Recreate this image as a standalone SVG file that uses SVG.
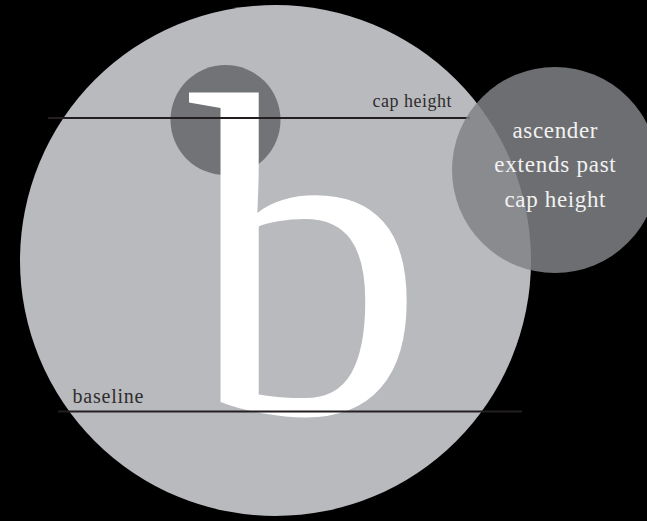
<svg xmlns="http://www.w3.org/2000/svg" width="647" height="521" viewBox="0 0 647 521">
<style>
.lbl{font-family:"Liberation Serif","Times New Roman",serif;fill:#2e2c2d}
.wht{font-family:"Liberation Serif","Times New Roman",serif;fill:#f2f2f2;text-anchor:middle}
.guide{stroke:#231f20;stroke-width:2}
</style>
<rect x="0" y="0" width="647" height="521" fill="#000"/>
<g id="big-circle"><circle cx="275.5" cy="260.5" r="255.5" fill="#b9babe"/></g>
<g id="ascender-highlight"><circle cx="225.5" cy="120" r="55" fill="#727377"/></g>
<g id="letter-b"><text transform="translate(189 413) scale(1.02 1)" x="0" y="0" font-family="'Liberation Serif','Times New Roman',serif" font-size="462" fill="#ffffff">b</text></g>
<g id="guides">
<line class="guide" x1="48" y1="118" x2="470" y2="118"/>
<line class="guide" x1="58" y1="411.5" x2="522" y2="411.5"/>
</g>
<g id="cap-height-label"><text class="lbl" x="372.5" y="107" font-size="18" textLength="79" lengthAdjust="spacing">cap height</text></g>
<g id="baseline-label"><text class="lbl" x="72.5" y="402.5" font-size="20" textLength="71" lengthAdjust="spacing">baseline</text></g>
<g id="note-circle">
<circle cx="555" cy="170" r="103" fill="#818286" fill-opacity="0.845"/>
<text class="wht" x="555" y="138" font-size="23" textLength="85" lengthAdjust="spacing">ascender</text>
<text class="wht" x="555" y="172" font-size="23" textLength="121.5" lengthAdjust="spacing">extends past</text>
<text class="wht" x="555" y="206.5" font-size="23" textLength="101" lengthAdjust="spacing">cap height</text>
</g>
</svg>
